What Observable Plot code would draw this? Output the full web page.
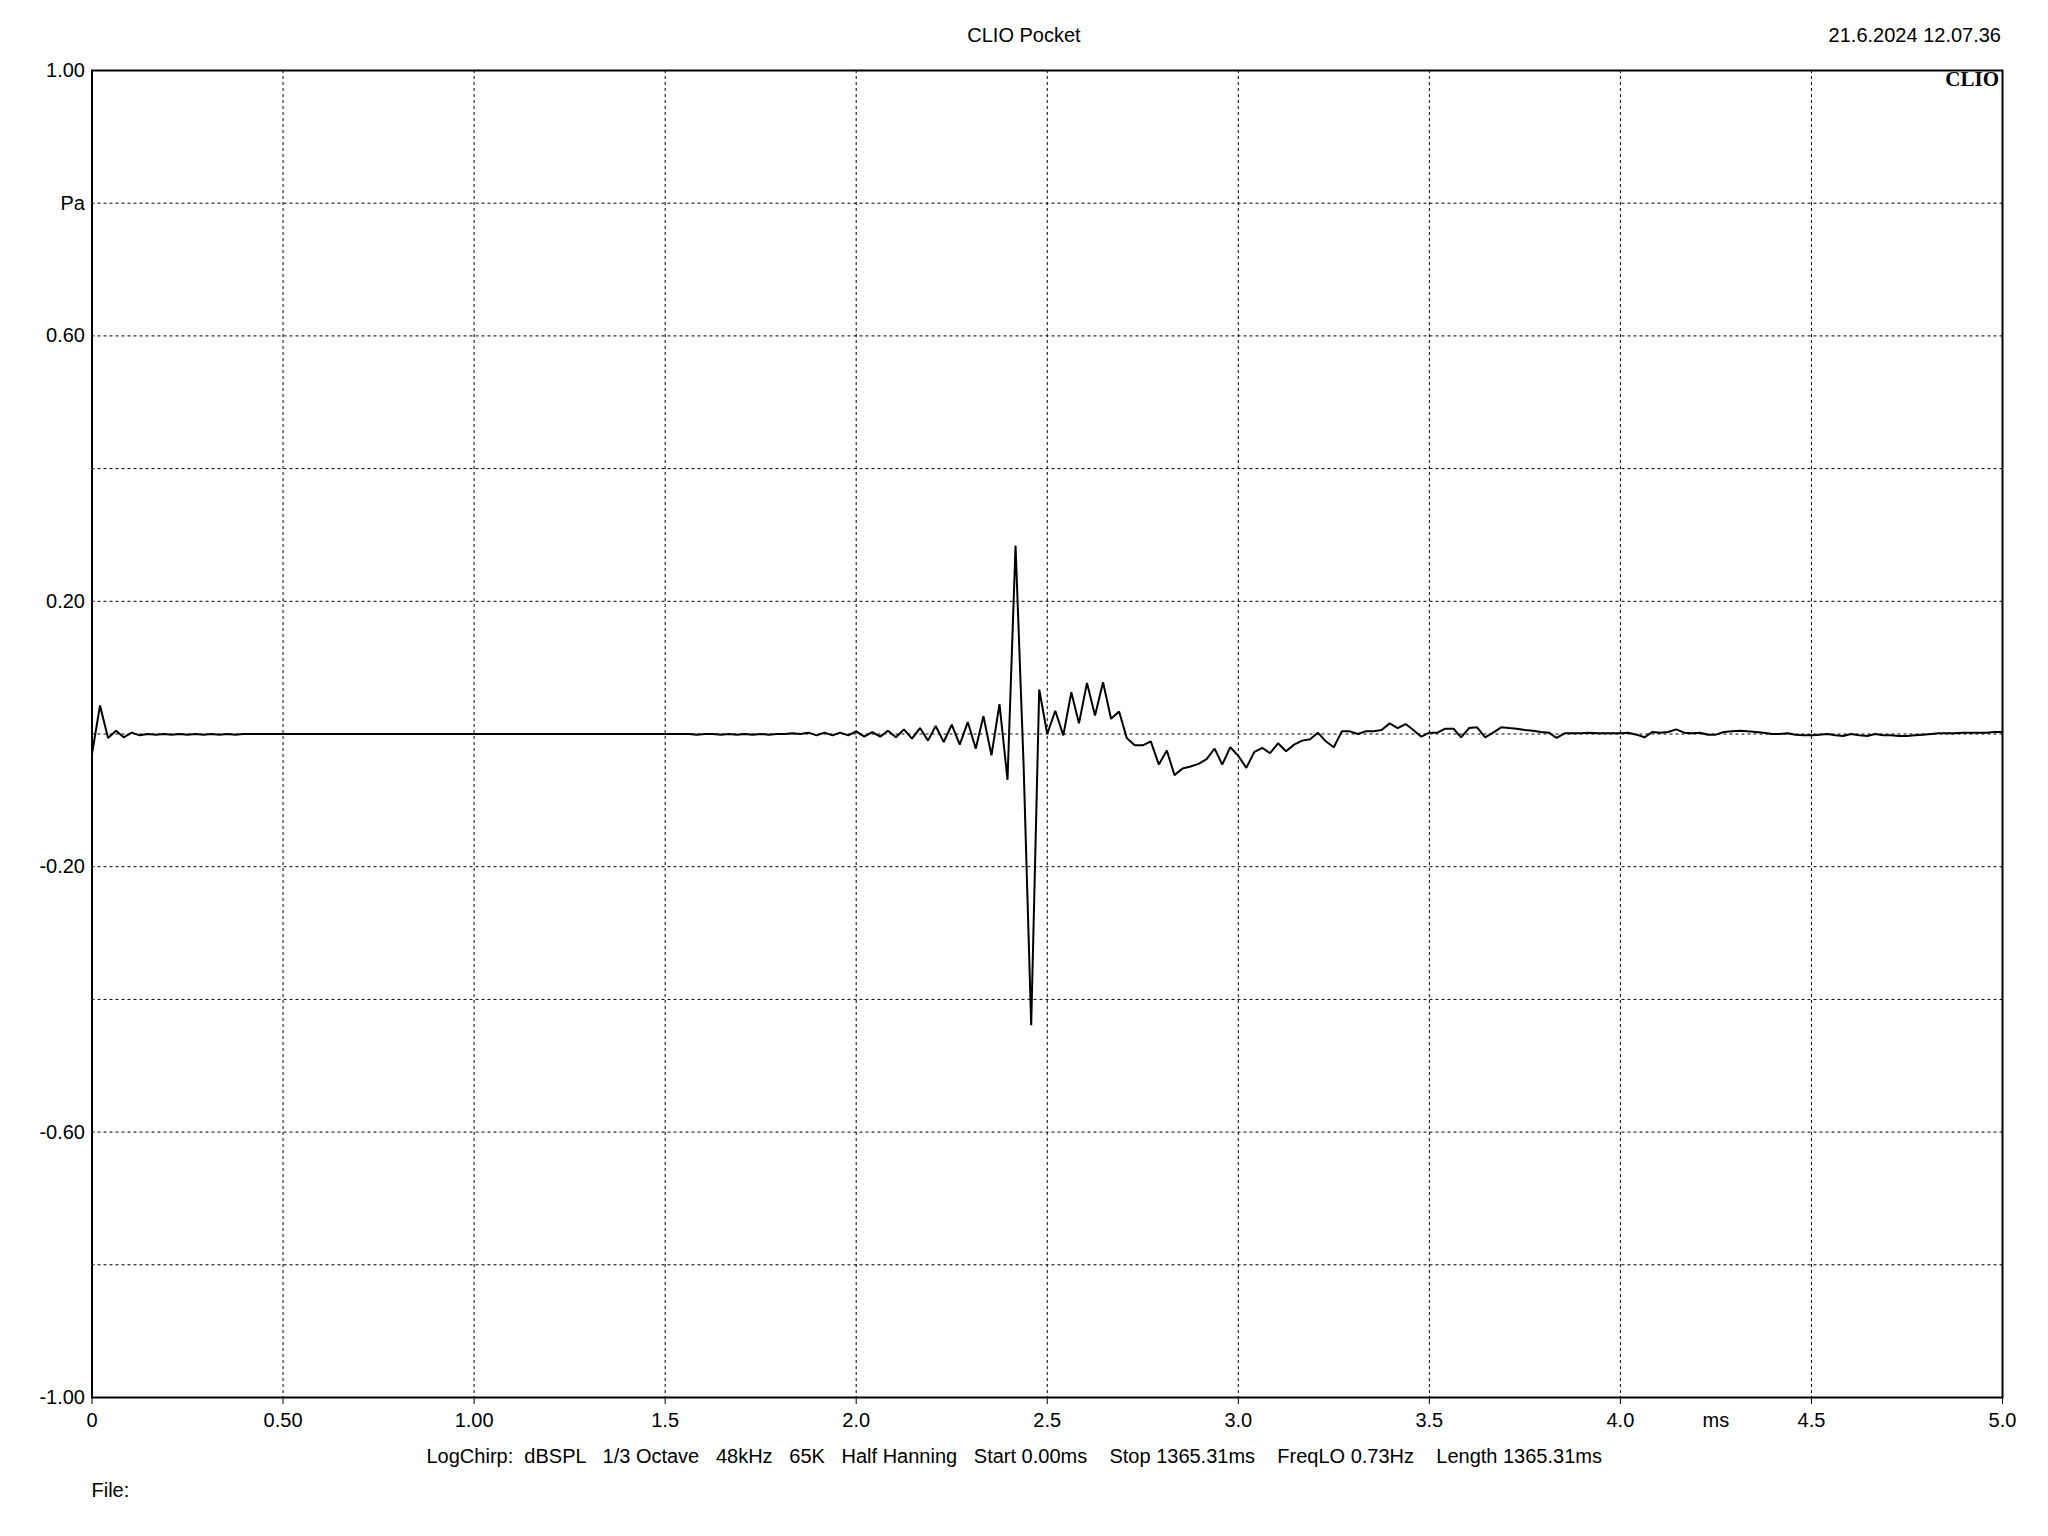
<!DOCTYPE html>
<html>
<head>
<meta charset="utf-8">
<script src="https://cdn.jsdelivr.net/npm/d3@7"></script>
<script src="https://cdn.jsdelivr.net/npm/@observablehq/plot@0.6"></script>
<style>
  html, body { margin: 0; padding: 0; background: #fff; }
  #chart { position: relative; width: 2048px; height: 1536px; }
</style>
</head>
<body>
<div id="chart"></div>
<script>
// ---- Data (impulse response, 48 kHz samples) ----
const timeMs = [
  0.000, 0.021, 0.042, 0.063, 0.083, 0.104, 0.125, 0.146, 0.167, 0.188,
  0.208, 0.229, 0.250, 0.271, 0.292, 0.313, 0.333, 0.354, 0.375, 0.396,
  0.417, 1.563, 1.583, 1.604, 1.625, 1.646, 1.667, 1.688, 1.708, 1.729,
  1.750, 1.771, 1.792, 1.813, 1.833, 1.854, 1.875, 1.896, 1.917, 1.938,
  1.958, 1.979, 2.000, 2.021, 2.042, 2.063, 2.083, 2.104, 2.125, 2.146,
  2.167, 2.188, 2.208, 2.229, 2.250, 2.271, 2.292, 2.313, 2.333, 2.354,
  2.375, 2.396, 2.417, 2.438, 2.458, 2.479, 2.500, 2.521, 2.542, 2.563,
  2.583, 2.604, 2.625, 2.646, 2.667, 2.688, 2.708, 2.729, 2.750, 2.771,
  2.792, 2.813, 2.833, 2.854, 2.875, 2.896, 2.917, 2.938, 2.958, 2.979,
  3.000, 3.021, 3.042, 3.063, 3.083, 3.104, 3.125, 3.146, 3.167, 3.188,
  3.208, 3.229, 3.250, 3.271, 3.292, 3.313, 3.333, 3.354, 3.375, 3.396,
  3.417, 3.438, 3.458, 3.479, 3.500, 3.521, 3.542, 3.563, 3.583, 3.604,
  3.625, 3.646, 3.667, 3.688, 3.708, 3.729, 3.750, 3.771, 3.792, 3.813,
  3.833, 3.854, 3.875, 3.896, 3.917, 3.938, 3.958, 3.979, 4.000, 4.021,
  4.042, 4.063, 4.083, 4.104, 4.125, 4.146, 4.167, 4.188, 4.208, 4.229,
  4.250, 4.271, 4.292, 4.313, 4.333, 4.354, 4.375, 4.396, 4.417, 4.438,
  4.458, 4.479, 4.500, 4.521, 4.542, 4.563, 4.583, 4.604, 4.625, 4.646,
  4.667, 4.688, 4.708, 4.729, 4.750, 4.771, 4.792, 4.813, 4.833, 4.854,
  4.875, 4.896, 4.917, 4.938, 4.958, 4.979, 5.000
];
const pressurePa = [
  -0.030, 0.043, -0.006, 0.005, -0.005, 0.002, -0.002, 0.000, -0.001, 0.000,
  -0.001, 0.000, -0.001, 0.000, -0.001, 0.000, -0.001, 0.000, -0.001, 0.000,
  0.000, 0.000, -0.001, 0.000, 0.000, -0.001, 0.000, -0.001, 0.000, -0.001,
  0.000, -0.001, 0.000, 0.000, 0.001, 0.000, 0.002, -0.002, 0.002, -0.002,
  0.002, -0.002, 0.004, -0.004, 0.003, -0.004, 0.005, -0.005, 0.007, -0.007,
  0.009, -0.010, 0.012, -0.012, 0.014, -0.016, 0.018, -0.022, 0.027, -0.032,
  0.045, -0.069, 0.284, -0.045, -0.439, 0.067, 0.000, 0.035, -0.002, 0.063,
  0.016, 0.077, 0.028, 0.078, 0.023, 0.034, -0.006, -0.017, -0.017, -0.011,
  -0.046, -0.025, -0.062, -0.052, -0.049, -0.045, -0.038, -0.022, -0.046, -0.020,
  -0.033, -0.051, -0.027, -0.021, -0.029, -0.014, -0.026, -0.016, -0.010, -0.008,
  0.002, -0.011, -0.020, 0.004, 0.004, 0.000, 0.004, 0.004, 0.006, 0.016,
  0.009, 0.015, 0.006, -0.004, 0.002, 0.002, 0.008, 0.008, -0.005, 0.009,
  0.010, -0.005, 0.002, 0.010, 0.009, 0.008, 0.006, 0.005, 0.003, 0.002,
  -0.006, 0.001, 0.001, 0.001, 0.002, 0.001, 0.001, 0.001, 0.001, 0.002,
  -0.001, -0.005, 0.003, 0.002, 0.003, 0.007, 0.002, 0.001, 0.002, -0.001,
  -0.001, 0.003, 0.004, 0.005, 0.004, 0.003, 0.002, 0.000, 0.000, 0.001,
  -0.001, -0.002, -0.002, -0.001, 0.000, -0.002, -0.003, 0.000, -0.002, -0.003,
  0.000, -0.002, -0.002, -0.003, -0.003, -0.002, -0.001, 0.000, 0.001, 0.001,
  0.001, 0.002, 0.002, 0.002, 0.002, 0.003, 0.003
];

const xTicks = [0, 0.5, 1, 1.5, 2, 2.5, 3, 3.5, 4, 4.5, 5];
const xTickLabels = ["0", "0.50", "1.00", "1.5", "2.0", "2.5", "3.0", "3.5", "4.0", "4.5", "5.0"];
const xGridLines = [0.5, 1, 1.5, 2, 2.5, 3, 3.5, 4, 4.5];
const yTicks = [1, 0.6, 0.2, -0.2, -0.6, -1];
const yTickLabels = ["1.00", "0.60", "0.20", "-0.20", "-0.60", "-1.00"];
const yGridLines = [-0.8, -0.6, -0.4, -0.2, 0, 0.2, 0.4, 0.6, 0.8];
const xUnit = "ms";
const yUnit = "Pa";

const titleText = "CLIO Pocket";
const dateText = "21.6.2024 12.07.36";
const logoText = "CLIO";
const captionText = "LogChirp:  dBSPL   1/3 Octave   48kHz   65K   Half Hanning   Start 0.00ms    Stop 1365.31ms    FreqLO 0.73Hz    Length 1365.31ms";
const fileText = "File:";

// ---- Chart ----
const samples = timeMs.map((t, i) => ({ t, p: pressurePa[i] }));
const sans = "'Liberation Sans', Arial, sans-serif";
const gridStyle = { stroke: "#000", strokeOpacity: 1, strokeWidth: 1, strokeDasharray: "3,3" };

const chart = Plot.plot({
  width: 2048,
  height: 1536,
  marginLeft: 91.5,
  marginRight: 46,
  marginTop: 70,
  marginBottom: 139,
  style: { fontFamily: sans, fontSize: "20px", color: "#000", background: "#fff", overflow: "visible" },
  x: { domain: [0, 5], label: null },
  y: { domain: [-1, 1], label: null },
  marks: [
    Plot.gridX(xGridLines, gridStyle),
    Plot.gridY(yGridLines, gridStyle),
    Plot.axisX(xTicks, {
      tickSize: 7, tickPadding: 8, label: null,
      tickFormat: d => xTickLabels[xTicks.indexOf(d)],
      fill: "#000", stroke: "#000"
    }),
    Plot.axisX([4.25], { tickSize: 0, tickPadding: 15, label: null, tickFormat: () => xUnit, fill: "#000" }),
    Plot.axisY(yTicks, {
      tickSize: 0, tickPadding: 7, label: null,
      tickFormat: d => yTickLabels[yTicks.indexOf(d)],
      fill: "#000"
    }),
    Plot.axisY([0.8], { tickSize: 0, tickPadding: 7, label: null, tickFormat: () => yUnit, fill: "#000" }),
    Plot.line(samples, { x: "t", y: "p", stroke: "#000", strokeWidth: 2, curve: "linear", strokeLinejoin: "miter" }),
    Plot.frame({ stroke: "#000", strokeWidth: 2 })
  ]
});

document.getElementById("chart").appendChild(chart);

// ---- Header / footer annotations ----
const svg = d3.select(chart);
const ann = svg.append("g").attr("font-family", sans).attr("font-size", 20).attr("fill", "#000");
ann.append("text").attr("x", 1024).attr("y", 41.5).attr("text-anchor", "middle").text(titleText);
ann.append("text").attr("x", 2001).attr("y", 41.5).attr("text-anchor", "end").text(dateText);
ann.append("text").attr("x", 426.5).attr("y", 1463).attr("text-anchor", "start")
  .style("white-space", "pre").text(captionText);
ann.append("text").attr("x", 91.5).attr("y", 1496.5).attr("text-anchor", "start").text(fileText);
svg.append("text")
  .attr("x", 1999).attr("y", 86).attr("text-anchor", "end")
  .attr("font-family", "'Liberation Serif', 'Times New Roman', serif")
  .attr("font-weight", "bold").attr("font-size", 21).attr("fill", "#000")
  .text(logoText);
</script>
</body>
</html>
